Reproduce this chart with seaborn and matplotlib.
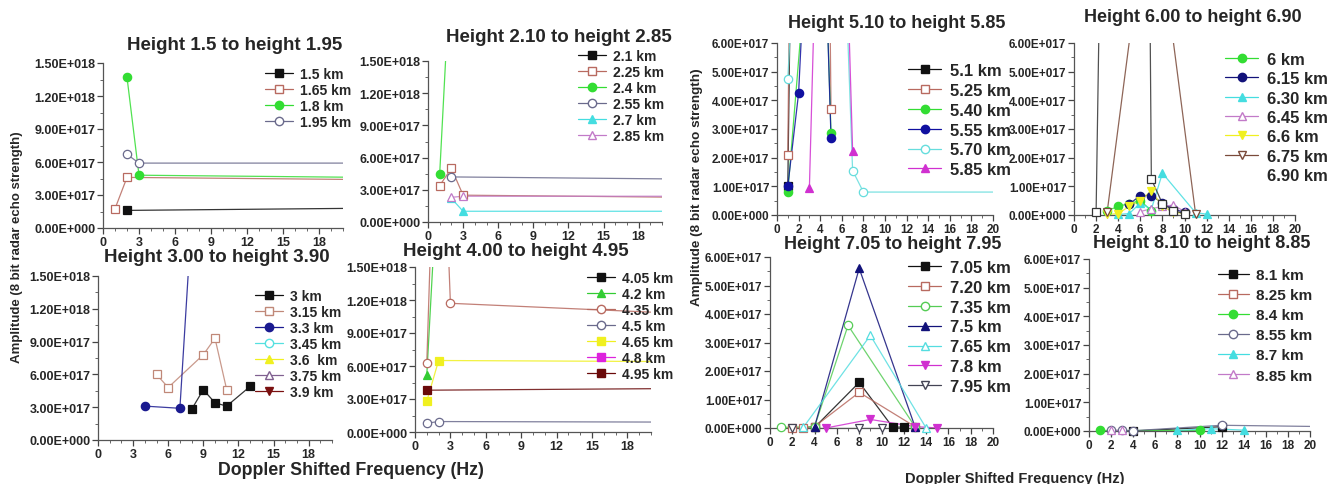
import numpy as np
import matplotlib
matplotlib.use("Agg")
import matplotlib.pyplot as plt
from matplotlib.lines import Line2D
from matplotlib.ticker import MultipleLocator, FuncFormatter
import seaborn as sns

# amplitude values are given in units of 1e17
SCALE = 1e17

# Height 1.5 to 1.95
p1_labels = ["1.5 km", "1.65 km", "1.8 km", "1.95 km"]
p1_x = [[2, 22], [1, 2, 22], [2, 3, 22], [2, 3, 22]]
p1_y = [[1.6, 1.8], [1.75, 4.6, 4.4], [13.7, 4.8, 4.6], [6.7, 5.9, 5.9]]

# Height 2.10 to 2.85
p2_labels = ["2.1 km", "2.25 km", "2.4 km", "2.55 km", "2.7 km", "2.85 km"]
p2_x = [[], [1, 2, 3, 22], [1, 2], [2, 22], [2, 3, 22], [2, 3, 22]]
p2_y = [[], [3.4, 5.0, 2.5, 2.3], [4.5, 25.5], [4.2, 4.0], [2.2, 1.0, 1.0], [2.3, 2.4, 2.4]]

# Height 3.00 to 3.90
p3_labels = ["3 km", "3.15 km", "3.3 km", "3.45 km", "3.6  km", "3.75 km", "3.9 km"]
p3_x = [[8, 9, 10, 11, 13], [5, 6, 9, 10, 11], [4, 7, 8], [], [], [], []]
p3_y = [[2.8, 4.6, 3.4, 3.1, 4.9], [6.0, 4.8, 7.8, 9.3, 4.6], [3.1, 2.9, 20.2], [], [], [], []]

# Height 4.00 to 4.95
p4_labels = ["4.05 km", "4.2 km", "4.35 km", "4.5 km", "4.65 km", "4.8 km", "4.95 km"]
p4_x = [[], [1, 2], [1, 2, 3, 22], [1, 2, 22], [1, 2, 22], [], [1, 22]]
p4_y = [[], [5.2, 25], [6.3, 40, 11.7, 10.8], [0.8, 0.95, 0.9], [2.8, 6.5, 6.4], [], [3.8, 3.95]]

# Height 5.10 to 5.85
p5_labels = ["5.1 km", "5.25 km", "5.40 km", "5.55 km", "5.70 km", "5.85 km"]
p5_x = [[1, 2], [1, 2, 4, 5], [1, 3, 4, 5], [1, 2, 3, 4, 5], [1, 2, 6, 7, 8, 22], [3, 4, 6, 7]]
p5_y = [[1.0, 30], [2.1, 40, 40, 3.7], [0.8, 10, 15, 2.85], [1.0, 4.25, 12, 15, 2.7],
        [4.75, 12, 12, 1.55, 0.8, 0.8], [0.95, 15, 15, 2.25]]

# Height 6.00 to 6.90
p6_labels = ["6 km", "6.15 km", "6.30 km", "6.45 km", "6.6 km", "6.75 km", "6.90 km"]
p6_x = [[3, 4, 5, 6, 7], [5, 6, 7, 8, 9, 10], [4, 5, 6, 7, 8, 11, 12], [6, 7, 8, 9, 10],
        [3, 4, 5, 6, 7, 8, 9, 10], [3, 6, 8, 11], [2, 4, 6, 7, 8, 9, 10]]
p6_y = [[0.15, 0.3, 0.4, 0.5, 0.15], [0.38, 0.68, 0.68, 0.42, 0.2, 0.1],
        [0.02, 0.05, 0.42, 0.2, 1.46, 0.08, 0.03], [0.12, 0.22, 0.3, 0.35, 0.12],
        [0.02, 0.05, 0.3, 0.5, 0.85, 0.3, 0.1, 0.05], [0.1, 9, 9, 0.05],
        [0.1, 50, 50, 1.25, 0.4, 0.15, 0.05]]

# Height 7.05 to 7.95
p7_labels = ["7.05 km", "7.20 km", "7.35 km", "7.5 km", "7.65 km", "7.8 km", "7.95 km"]
p7_x = [[4, 8, 11, 12], [2, 3, 4, 8, 13], [1, 4, 7, 13], [4, 8, 13], [3, 9, 14],
        [5, 9, 13, 15], [2, 8, 10]]
p7_y = [[0.02, 1.6, 0.03, 0.03], [0.0, 0.0, 0.05, 1.25, 0.05], [0.02, 0.05, 3.6, 0.05],
        [0.05, 5.6, 0.05], [0.03, 3.25, 0.0], [0.0, 0.3, 0.05, 0.0], [0.0, 0.0, 0.0]]

# Height 8.10 to 8.85
p8_labels = ["8.1 km", "8.25 km", "8.4 km", "8.55 km", "8.7 km", "8.85 km"]
p8_x = [[4, 12], [], [1, 10], [2, 3, 4, 12, 22], [8, 11, 14], [2, 3]]
p8_y = [[0.0, 0.15], [], [0.02, 0.02], [0.02, 0.02, 0.01, 0.2, 0.15], [0.02, 0.08, 0.03], [0.02, 0.02]]

# colours / markers (colour, marker, filled)
BLACK = ("#111111", "s", True)
BROWN_SQ = ("#b86a60", "s", False)
GREEN_O = ("#33dd33", "o", True)
GREY_O = ("#6a6a8c", "o", False)
CYAN_T = ("#44dde0", "^", True)
PINK_T = ("#c27ac8", "^", False)

p1_style = [BLACK, BROWN_SQ, GREEN_O, GREY_O]
p2_style = [BLACK, BROWN_SQ, GREEN_O, GREY_O, CYAN_T, PINK_T]
p3_style = [BLACK, ("#c08878", "s", False), ("#1a1a90", "o", True), ("#55e0e0", "o", False),
            ("#f0f020", "^", True), ("#806090", "^", False), ("#7a1010", "v", True)]
p4_style = [BLACK, ("#33cc33", "^", True), ("#b86a60", "o", False), GREY_O,
            ("#f0f020", "s", True), ("#dd22dd", "s", True), ("#6a0a0a", "s", True)]
p5_style = [BLACK, BROWN_SQ, GREEN_O, ("#1010a0", "o", True), ("#66dddd", "o", False),
            ("#d030d0", "^", True)]
p6_style = [GREEN_O, ("#12127a", "o", True), CYAN_T, PINK_T, ("#f0f020", "v", True),
            ("#7a4a3a", "v", False), ("#333333", "s", False)]
p7_style = [BLACK, BROWN_SQ, ("#55cc55", "o", False), ("#12127a", "^", True),
            ("#55dde0", "^", False), ("#d030d0", "v", True), ("#444455", "v", False)]
p8_style = [BLACK, BROWN_SQ, GREEN_O, GREY_O, CYAN_T, PINK_T]

W, H = 1329, 485

sns.set_style("ticks")
plt.rcParams["font.family"] = ["Liberation Sans", "DejaVu Sans"]
plt.rcParams["font.weight"] = "bold"

fig = plt.figure(figsize=(W / 100, H / 100), dpi=100)


def sci_fmt(v, pos):
    mant, exp = f"{v:.2E}".split("E")
    return f"{mant}E{int(exp):+04d}"


def px_axes(l, t, r, b):
    return fig.add_axes([l / W, 1 - b / H, (r - l) / W, (b - t) / H])


def draw_panel(box, xs, ys, labels, styles, title, title_xy, title_size, ymax, ymaj, ymin_, xmaj,
               leg_xy, leg_size, tick_size, spacing, ms=6, hide_last=False):
    ax = px_axes(*box)
    for x, y, st in zip(xs, ys, styles):
        if len(x) == 0:
            continue
        c, m, filled = st
        x = np.array(x, dtype=float)
        y = np.array(y, dtype=float) * SCALE
        sns.lineplot(x=x, y=y, ax=ax, color=c, linewidth=0.9, sort=False,
                     estimator=None, legend=False, alpha=0.85)
        keep = (x <= 20) & (y <= ymax * SCALE)
        ax.plot(x[keep], y[keep], linestyle="none", marker=m, markersize=ms,
                markerfacecolor=c if filled else "white", markeredgecolor=c,
                markeredgewidth=0.9, clip_on=False, zorder=5)
    ax.set_xlim(0, 20)
    ax.set_ylim(0, ymax * SCALE)
    ax.xaxis.set_major_locator(MultipleLocator(xmaj))
    ax.xaxis.set_minor_locator(MultipleLocator(1))
    ax.yaxis.set_major_locator(MultipleLocator(ymaj * SCALE))
    ax.yaxis.set_minor_locator(MultipleLocator(ymin_ * SCALE))
    ax.yaxis.set_major_formatter(FuncFormatter(sci_fmt))
    if xmaj == 3:
        ax.set_xticks(np.arange(0, 19, 3))
    ax.tick_params(which="major", direction="out", length=4, width=0.9, color="#444444",
                   labelsize=tick_size, pad=1.5)
    ax.tick_params(which="minor", direction="out", length=2, width=0.7, color="#666666")
    for s in ["top", "right"]:
        ax.spines[s].set_visible(False)
    for s in ["left", "bottom"]:
        ax.spines[s].set_color("#555555")
        ax.spines[s].set_linewidth(0.9)
    ax.set_facecolor("none")
    ax.set_xlabel("")
    ax.set_ylabel("")

    handles = []
    for c, m, filled in styles:
        handles.append(Line2D([], [], color=c, linewidth=0.9, marker=m, markersize=ms,
                              markerfacecolor=c if filled else "white", markeredgecolor=c))
    leg = ax.legend(handles, labels, loc="upper left",
                    bbox_to_anchor=(leg_xy[0] / W, 1 - leg_xy[1] / H),
                    bbox_transform=fig.transFigure, frameon=False, borderpad=0,
                    borderaxespad=0, handlelength=2.0, handletextpad=0.5,
                    labelspacing=spacing, prop={"size": leg_size, "weight": "bold"})
    if hide_last:
        leg.legend_handles[-1].set_visible(False)

    fig.text(title_xy[0] / W, 1 - title_xy[1] / H, title, ha="center", va="center",
             fontsize=title_size, fontweight="bold")
    return ax


draw_panel((103, 64, 343, 229), p1_x, p1_y, p1_labels, p1_style,
           "Height 1.5 to height 1.95", (235, 45), 13.5, 15, 3, 1.5, 3, (265, 68), 10, 9, 0.14)
draw_panel((428, 62, 662, 223), p2_x, p2_y, p2_labels, p2_style,
           "Height 2.10 to height 2.85", (559, 38), 13.5, 15, 3, 1.5, 3, (578, 50), 10, 9, 0.14)
draw_panel((98, 277, 332, 441), p3_x, p3_y, p3_labels, p3_style,
           "Height 3.00 to height 3.90", (217, 257), 13.5, 15, 3, 1.5, 3, (255, 290), 10, 9, 0.14)
draw_panel((415, 268, 651, 433), p4_x, p4_y, p4_labels, p4_style,
           "Height 4.00 to height 4.95", (516, 252), 13.5, 15, 3, 1.5, 3, (587, 272), 10, 9, 0.14)
draw_panel((777, 44, 993, 216), p5_x, p5_y, p5_labels, p5_style,
           "Height 5.10 to height 5.85", (897, 23), 13, 6, 1, 0.5, 2, (908, 64), 12, 8.5, 0.29)
draw_panel((1074, 44, 1295, 216), p6_x, p6_y, p6_labels, p6_style,
           "Height 6.00 to height 6.90", (1193, 18), 13, 6, 1, 0.5, 2, (1225, 53), 12, 8.5, 0.26,
           hide_last=True)
draw_panel((770, 258, 993, 429), p7_x, p7_y, p7_labels, p7_style,
           "Height 7.05 to height 7.95", (893, 245), 13, 6, 1, 0.5, 2, (908, 261), 12, 8.5, 0.29)
draw_panel((1089, 260, 1310, 432), p8_x, p8_y, p8_labels, p8_style,
           "Height 8.10 to height 8.85", (1202, 244), 13, 6, 1, 0.5, 2, (1218, 269), 11, 8.5, 0.4)

ylab = "Amplitude (8 bit radar echo strength)"
fig.text(17 / W, 1 - 247 / H, ylab, rotation=90, ha="center", va="center",
         fontsize=9.5, fontweight="bold")
fig.text(697 / W, 1 - 187 / H, ylab, rotation=90, ha="center", va="center",
         fontsize=9.7, fontweight="bold")
fig.text(351 / W, 1 - 471 / H, "Doppler Shifted Frequency (Hz)", ha="center", va="center",
         fontsize=12.8, fontweight="bold")
fig.text(1015 / W, 1 - 479 / H, "Doppler Shifted Frequency (Hz)", ha="center", va="center",
         fontsize=10.5, fontweight="bold")

fig.savefig("out.png", dpi=100, facecolor="white")
